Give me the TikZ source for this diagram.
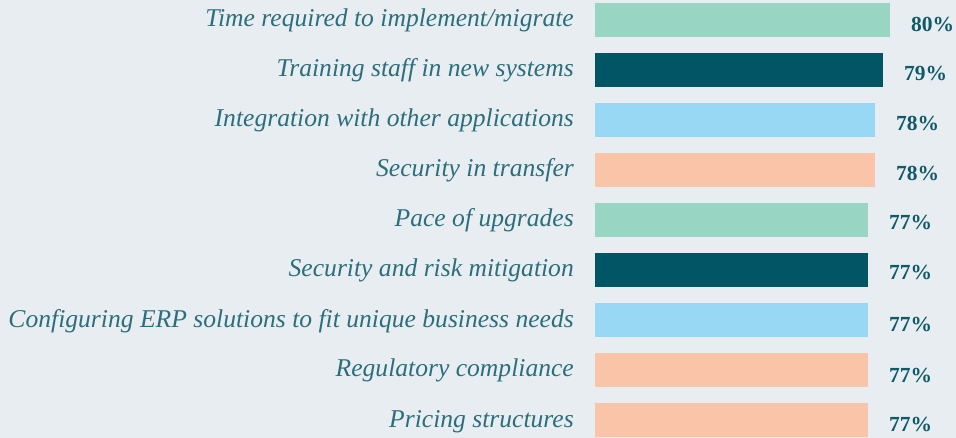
\documentclass[tikz,border=0pt]{standalone}
\usepackage{fontspec}
\setmainfont{Liberation Serif}
\definecolor{bg}{HTML}{E8EDF1}
\definecolor{mint}{HTML}{98D5C3}
\definecolor{deepteal}{HTML}{015565}
\definecolor{skyblue}{HTML}{98D8F5}
\definecolor{peach}{HTML}{F9C4A7}
\definecolor{labeltxt}{HTML}{2B6E7C}
\definecolor{pcttxt}{HTML}{0F5A68}
\tikzset{
  catlabel/.style={anchor=base east, inner sep=0pt, text=labeltxt, font=\fontsize{25.6}{30}\selectfont\itshape},
  pctlabel/.style={anchor=base west, inner sep=0pt, text=pcttxt, font=\fontsize{21.5}{25}\selectfont\bfseries}
}
\begin{document}
\begin{tikzpicture}[x=1pt,y=-1pt]
\fill[bg] (0,0) rectangle (956,438);
\useasboundingbox (0,0) rectangle (956,438);
\foreach \i/\txt/\col/\xend/\pct/\pb in {
  0/Time required to implement\slash migrate/mint/890/80/32,
  1/Training staff in new systems/deepteal/883/79/81,
  2/Integration with other applications/skyblue/875/78/131,
  3/Security in transfer/peach/875/78/181,
  4/Pace of upgrades/mint/868/77/230,
  5/Security and risk mitigation/deepteal/868/77/280,
  6/Configuring ERP solutions to fit unique business needs/skyblue/868/77/331,
  7/Regulatory compliance/peach/868/77/382,
  8/Pricing structures/peach/868/77/431}{
  \pgfmathsetmacro{\ytop}{3+50*\i}
  \pgfmathsetmacro{\ybot}{37+50*\i}
  \pgfmathsetmacro{\ybase}{27+50*\i}
  \fill[\col] (595,\ytop) rectangle (\xend,\ybot);
  \node[catlabel] (cat\i) at (574,\ybase) {\txt};
  \node[pctlabel] (pct\i) at (\xend+21,\pb) {\pct\%};
}
\end{tikzpicture}
\end{document}
